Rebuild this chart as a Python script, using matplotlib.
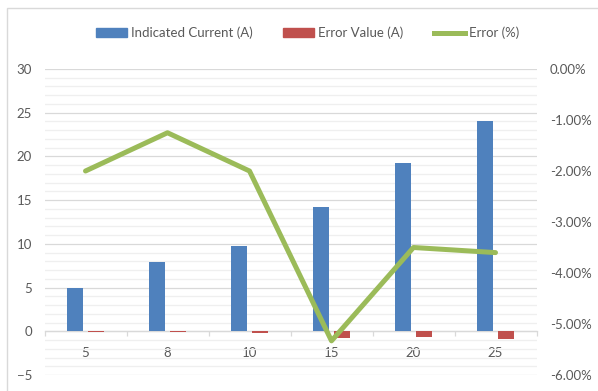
import numpy as np
import matplotlib.pyplot as plt
from matplotlib.patches import Rectangle, Patch
from matplotlib.lines import Line2D
from matplotlib.ticker import MultipleLocator, FuncFormatter

# Datos de la prueba del amperímetro
rangos = ['5', '8', '10', '15', '20', '25']
corriente_indicada = [4.9, 7.9, 9.8, 14.2, 19.3, 24.1]   # A
valor_error = [-0.1, -0.1, -0.2, -0.8, -0.7, -0.9]       # A
error_pct = [-2.0, -1.25, -2.0, -5.33, -3.5, -3.6]       # %

AZUL = '#4F81BD'
ROJO = '#C0504D'
VERDE = '#9BBB59'
GRIS_TEXTO = '#595959'
GRIS_LINEA = '#D9D9D9'

plt.rcParams['font.family'] = ['Lato', 'DejaVu Sans']
FS = 9.5

fig = plt.figure(figsize=(5.98, 3.91), dpi=100)
ax = fig.add_axes([44.5 / 598, 1 - 375 / 391, 492 / 598, 306 / 391])

x = np.arange(len(rangos))
ancho = 0.195
ax.bar(x - 0.13, corriente_indicada, ancho, color=AZUL, label='Indicated Current (A)', zorder=3)
ax.bar(x + 0.13, valor_error, ancho, color=ROJO, label='Error Value (A)', zorder=3)

ax.set_xlim(-0.5, len(rangos) - 0.5)
ax.set_ylim(-5, 30)
ax.yaxis.set_major_locator(MultipleLocator(5))
ax.yaxis.set_minor_locator(MultipleLocator(1))
ax.grid(which='major', axis='y', color=GRIS_LINEA, lw=0.9)
ax.grid(which='minor', axis='y', color='#EFEFEF', lw=0.9)
ax.set_axisbelow(True)

# eje de categorías sobre y = 0, con marcas entre categorías
for lado in ['top', 'right', 'left']:
    ax.spines[lado].set_visible(False)
ax.spines['bottom'].set_position(('data', 0))
ax.spines['bottom'].set_color(GRIS_LINEA)
ax.spines['bottom'].set_linewidth(0.9)
ax.set_xticks(np.arange(-0.5, len(rangos), 1.0))
ax.set_xticklabels([])
ax.set_xticks(x, minor=True)
ax.set_xticklabels(rangos, minor=True)
ax.tick_params(axis='x', which='major', length=3.6, color=GRIS_LINEA, width=0.9)
ax.tick_params(axis='x', which='minor', length=0, pad=11.5, labelsize=FS, labelcolor=GRIS_TEXTO)
ax.tick_params(axis='y', which='both', length=0, pad=9, labelsize=FS, labelcolor=GRIS_TEXTO)

# eje secundario para el error porcentual
ax2 = ax.twinx()
ax2.plot(x, error_pct, color=VERDE, lw=3.6, solid_joinstyle='round',
         solid_capstyle='round', label='Error (%)', zorder=4)
ax2.set_ylim(-6, 0)
ax2.yaxis.set_major_locator(MultipleLocator(1))
ax2.yaxis.set_major_formatter(FuncFormatter(lambda v, p: f'{v:.2f}%'))
ax2.tick_params(axis='y', length=0, pad=9.7, labelsize=FS, labelcolor=GRIS_TEXTO)
for lado in ax2.spines:
    ax2.spines[lado].set_visible(False)

manejadores = [Patch(color=AZUL), Patch(color=ROJO), Line2D([], [], color=VERDE, lw=3.6)]
fig.legend(manejadores, ['Indicated Current (A)', 'Error Value (A)', 'Error (%)'],
           loc='center', bbox_to_anchor=(0.514, 1 - 33 / 391), ncol=3, frameon=False,
           fontsize=FS, labelcolor=GRIS_TEXTO, handlelength=2.35, handleheight=0.6,
           handletextpad=0.3, columnspacing=2.3)

# borde del área del gráfico
fig.add_artist(Rectangle((6.5 / 598, -0.2), 2, 1.2 - 8.3 / 391, transform=fig.transFigure,
                         fill=False, edgecolor=GRIS_LINEA, lw=1))

fig.savefig('out.png', dpi=100)
